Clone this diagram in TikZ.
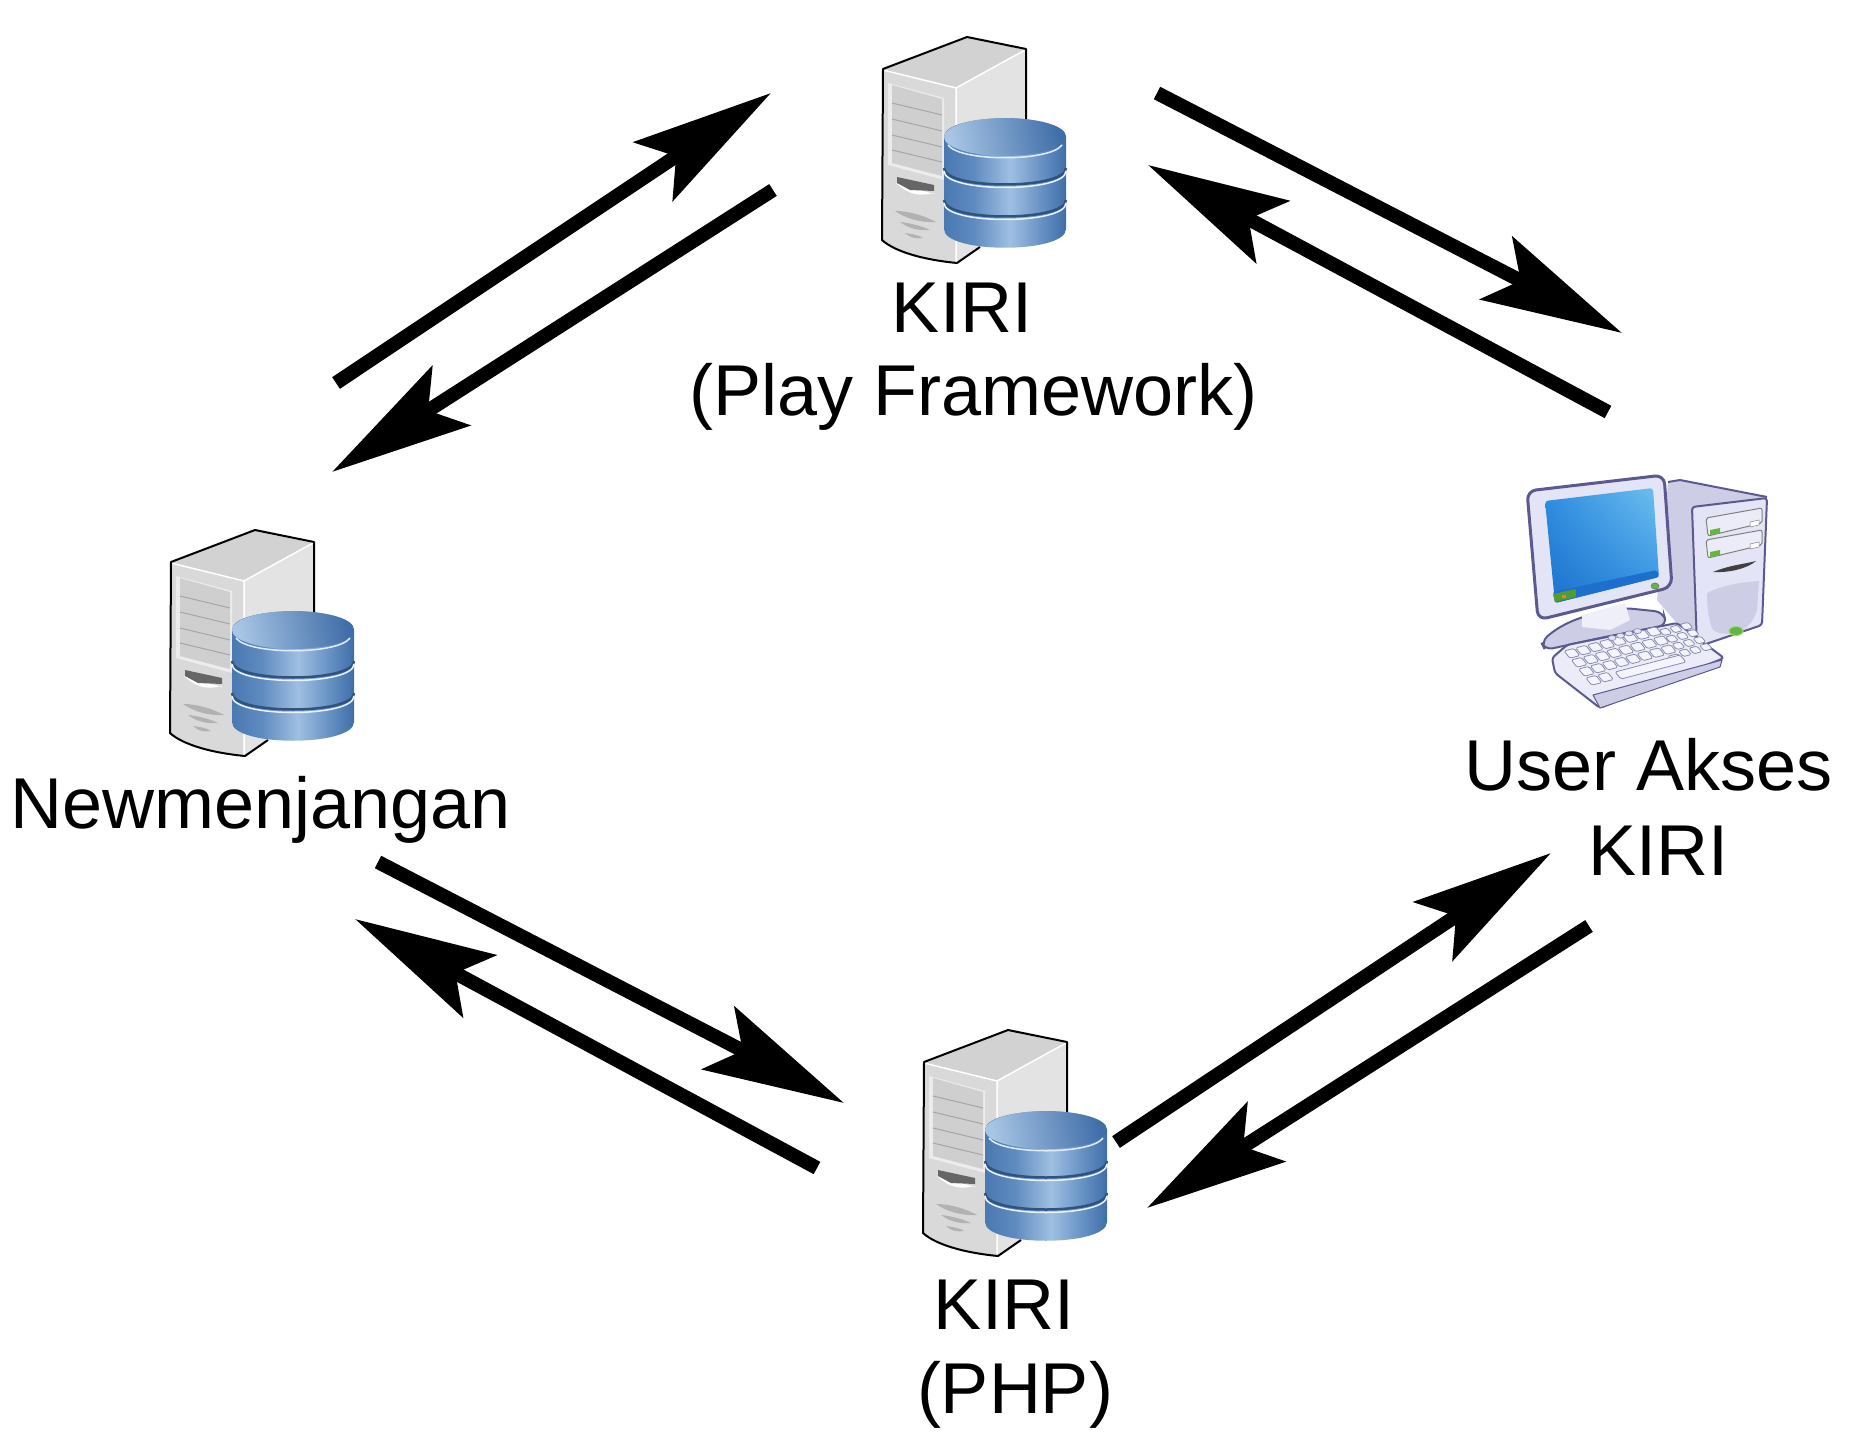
\documentclass[tikz,border=0pt]{standalone}
\usepackage{fontspec}
\setmainfont{Liberation Sans}
\usepackage{tikz}
\usetikzlibrary{arrows.meta,shadings}
\definecolor{cyla}{HTML}{4A79B1}
\definecolor{cylb}{HTML}{5E8ABF}
\definecolor{cylc}{HTML}{9FBFE2}
\definecolor{cyld}{HTML}{3F6EA8}
\definecolor{pcline}{HTML}{5A5A90}
\definecolor{pcbody}{HTML}{E4E4F7}
\definecolor{pcside}{HTML}{CDCDE6}
\definecolor{pcgreen}{HTML}{62B83A}
\definecolor{scrlight}{HTML}{6FC0F0}
\definecolor{scrmid}{HTML}{2F8FE0}
\definecolor{scrdark}{HTML}{1C6FCC}
\pgfdeclarehorizontalshading{cylside}{100bp}{color(0bp)=(cyla); color(25bp)=(cyla); color(37bp)=(cylb); color(52bp)=(cylc); color(67bp)=(cylb); color(75bp)=(cyld); color(100bp)=(cyld)}
\tikzset{
  main/.style = {font=\fontsize{72}{84}\selectfont, inner sep=0pt, anchor=base},
  flow/.style = {line width=14pt, -{Stealth[length=141pt, width=70pt, inset=27pt]}},
  keycap/.style = {fill=white!60!pcbody, draw=pcline!70!white, line width=.8pt, rounded corners=1.5pt},
  serverpic/.pic = {
    \fill[gray!35] (33,50) -- (117,17) -- (175,30) -- (106,68) -- cycle;
    \fill[gray!22] (106,68) -- (175,30) -- (175,200) -- (130,227) -- (106,243) -- cycle;
    \fill[gray!30] (33,50) -- (106,68) -- (106,243) .. controls (70,238) and (45,230) .. (32,220) -- cycle;
    \draw[white, line width=1.5pt] (33,50) -- (106,68) -- (175,30) (106,68) -- (106,243);
    \draw[black, line width=2pt, line join=round] (176,100) -- (176,29) -- (117,17) -- (33,49) -- (32,220) .. controls (45,232) and (75,240) .. (107,243) -- (130,227);
    \fill[gray!15] (38,63) -- (94,78) -- (94,160) -- (38,145) -- cycle;
    \fill[gray!38] (42,65) -- (92,79) -- (92,156) -- (42,143) -- cycle;
    \foreach \ly in {0,16,32,47}
      \draw[gray!70, line width=1pt] (42,83+\ly) -- (92,95+\ly);
    \fill[white] (46,163) -- (84,174) -- (84,173) .. controls (70,176) and (60,176) .. (46,163) -- cycle;
    \fill[gray!80!black] (47,157) -- (84,165) -- (84,171) -- (60,170) -- (47,163) -- cycle;
    \fill[gray!60] (45,191) .. controls (60,191) and (75,196) .. (86,202) .. controls (70,203) and (55,198) .. (45,191) -- cycle;
    \fill[gray!60] (50,202) .. controls (60,203) and (72,206) .. (80,210) .. controls (68,211) and (58,208) .. (50,202) -- cycle;
    \fill[gray!60] (55,213) .. controls (62,214) and (69,215) .. (73,218) .. controls (66,219) and (60,218) .. (55,213) -- cycle;
    \shade[shading=cylside] (94,117) -- (94,209) .. controls (94,234) and (216,234) .. (216,209) -- (216,117) .. controls (216,92) and (94,92) .. (94,117) -- cycle;
    \foreach \cy in {150,182} {
      \draw[cyld!75!black, line width=2.5pt] (94,\cy-2) .. controls (94,\cy+20) and (216,\cy+20) .. (216,\cy-2);
      \draw[white!80!cylc, line width=1.5pt] (94,\cy+1) .. controls (94,\cy+23) and (216,\cy+23) .. (216,\cy+1);
    }
    \draw[white!70!cylc, line width=1.5pt] (98,125) .. controls (110,142) and (200,142) .. (212,125);
    \shade[left color=cylc!90!white, right color=cyld, shading angle=100] (155,117) ellipse [x radius=61, y radius=19];
  },
  pcpic/.pic = {
    \fill[pcside] (168,22) -- (180,20) -- (267,37) -- (192,47) -- (197,187) -- (157,140) -- cycle;
    \draw[pcline, line width=2pt] (168,22) -- (180,20) -- (267,37);
    \filldraw[fill=pcbody, draw=pcline, line width=2pt, rounded corners=3pt] (192,47) -- (267,38) -- (262,165) -- (197,187) -- cycle;
    \foreach \ty in {0,22} {
      \filldraw[fill=pcbody!70!white, draw=gray, line width=1pt, rounded corners=2pt] (206,58+\ty) -- (262,48+\ty) -- (262,63+\ty) -- (208,76+\ty) -- cycle;
      \fill[pcgreen] (210,70+\ty) -- (220,68+\ty) -- (220,73+\ty) -- (210,75+\ty) -- cycle;
      \draw[gray, fill=white, line width=.5pt] (250,62+\ty) -- (259,60+\ty) -- (259,65+\ty) -- (250,67+\ty) -- cycle;
    }
    \fill[black!75] (213,112) .. controls (230,105) and (245,104) .. (256,101) .. controls (248,108) and (230,113) .. (213,112) -- cycle;
    \fill[pcside] (207,133) .. controls (225,124) and (245,122) .. (259,121) -- (257,150) .. controls (250,175) and (225,178) .. (213,170) .. controls (208,160) and (207,145) .. (207,133) -- cycle;
    \filldraw[fill=pcgreen, draw=pcgreen!60!white, line width=1pt] (236,171) ellipse [x radius=7, y radius=4.5];
    \filldraw[fill=pcside, draw=pcline, line width=2pt, rounded corners=8pt] (41,182) .. controls (60,165) and (80,155) .. (125,148) -- (163,152) -- (167,165) -- (100,178) -- (45,190) -- cycle;
    \filldraw[fill=white!40!pcbody, draw=none] (82,155) -- (125,143) -- (130,160) -- (110,170) -- (82,167) -- cycle;
    \fill[white] (130,142) -- (148,138) -- (155,147) -- (135,148) -- cycle;
    \filldraw[fill=pcbody, draw=pcline, line width=3pt, rounded corners=9pt] (27,31) -- (164,15) -- (172,127) -- (38,160) -- cycle;
    \shade[upper right=scrlight, upper left=scrmid, lower left=scrdark, lower right=scrmid, rounded corners=3pt] (45,41) -- (153,28) -- (159,117) -- (55,143) -- cycle;
    \fill[scrdark, rounded corners=2pt] (53,132) -- (157,110) -- (159,117) -- (55,143) -- cycle;
    \fill[pcgreen!85!black, rounded corners=1pt] (53,134) -- (76,129) -- (76,137) -- (55,142) -- cycle;
    \fill[orange] (62,135) rectangle (66,138);
    \filldraw[fill=pcgreen, draw=black!60, line width=.5pt] (155,126) ellipse [x radius=4, y radius=3];
    \filldraw[fill=pcbody!70!white, draw=pcline, line width=2pt, line join=round, rounded corners=3pt] (52,198) -- (67,185) -- (177,163) -- (224,198) -- (100,248) -- (55,213) -- cycle;
    \filldraw[fill=pcside, draw=pcline, line width=1pt, line join=round] (93,235) -- (222,200) -- (220,207) -- (100,248) -- cycle;
    \foreach \cx in {0,...,7}
      \foreach \rw in {0,1,2,3} {
        \ifnum\rw=3 \ifnum\cx>1 \ifnum\cx<7 \else
          \filldraw[keycap] ({64+\cx*11.7+\rw*7.3},{191-\cx*3.1+\rw*9}) -- ++(10,-2.6) -- ++(5.8,7.2) -- ++(-10,2.6) -- cycle;
          \fi \else
          \filldraw[keycap] ({64+\cx*11.7+\rw*7.3},{191-\cx*3.1+\rw*9}) -- ++(10,-2.6) -- ++(5.8,7.2) -- ++(-10,2.6) -- cycle;
          \fi \else
          \filldraw[keycap] ({64+\cx*11.7+\rw*7.3},{191-\cx*3.1+\rw*9}) -- ++(10,-2.6) -- ++(5.8,7.2) -- ++(-10,2.6) -- cycle;
          \fi
      }
    \filldraw[keycap] (115,212) -- (180,195) -- (186,202) -- (121,219) -- cycle;
    \foreach \cx in {0,1,2}
      \foreach \rw in {0,1,2,3}
        \filldraw[keycap] ({159+\cx*10.5+\rw*6.5},{170-\cx*2.8+\rw*7}) -- ++(8,-2.1) -- ++(4.8,5.6) -- ++(-8,2.1) -- cycle;
    \foreach \cx in {0,...,3}
      \filldraw[fill=pcbody, draw=pcline!70!white, line width=.7pt] ({112+\cx*8.5},{178-\cx*2.3}) ellipse [x radius=4, y radius=2.5];
  },
}
\begin{document}
\begin{tikzpicture}[x=1pt, y=-1pt]
    \useasboundingbox (0,0) rectangle (1855,1439);
    \pic (play) at (850,20) {serverpic};
    \pic (newm) at (138,513) {serverpic};
    \pic (php) at (891,1013) {serverpic};
    \pic (user) at (1500,460) {pcpic};
    \node[main] (playa) at (962,332) {KIRI};
    \node[main] (playb) at (974,415) {(Play Framework)};
    \node[main] (newmlabel) at (261,828) {Newmenjangan};
    \node[main] (usera) at (1649,790) {User Akses};
    \node[main] (userb) at (1658,875) {KIRI};
    \node[main] (phpa) at (1004,1329) {KIRI};
    \node[main] (phpb) at (1015,1413) {(PHP)};
    \coordinate (n1) at (336,383);
    \coordinate (p1) at (771,93);
    \coordinate (p2) at (773,190);
    \coordinate (n2) at (332,472);
    \coordinate (p3) at (1157,93);
    \coordinate (u3) at (1622,333);
    \coordinate (u4) at (1608,412);
    \coordinate (p4) at (1148,165);
    \coordinate (n5) at (378,862);
    \coordinate (h5) at (844,1103);
    \coordinate (h6) at (817,1168);
    \coordinate (n6) at (355,919);
    \coordinate (h7) at (1116,1142);
    \coordinate (u7) at (1551,853);
    \coordinate (u8) at (1589,926);
    \coordinate (h8) at (1147,1208);
    \draw[flow] (n1) -- (p1);
    \draw[flow] (p2) -- (n2);
    \draw[flow] (p3) -- (u3);
    \draw[flow] (u4) -- (p4);
    \draw[flow] (n5) -- (h5);
    \draw[flow] (h6) -- (n6);
    \draw[flow] (h7) -- (u7);
    \draw[flow] (u8) -- (h8);
\end{tikzpicture}
\end{document}
